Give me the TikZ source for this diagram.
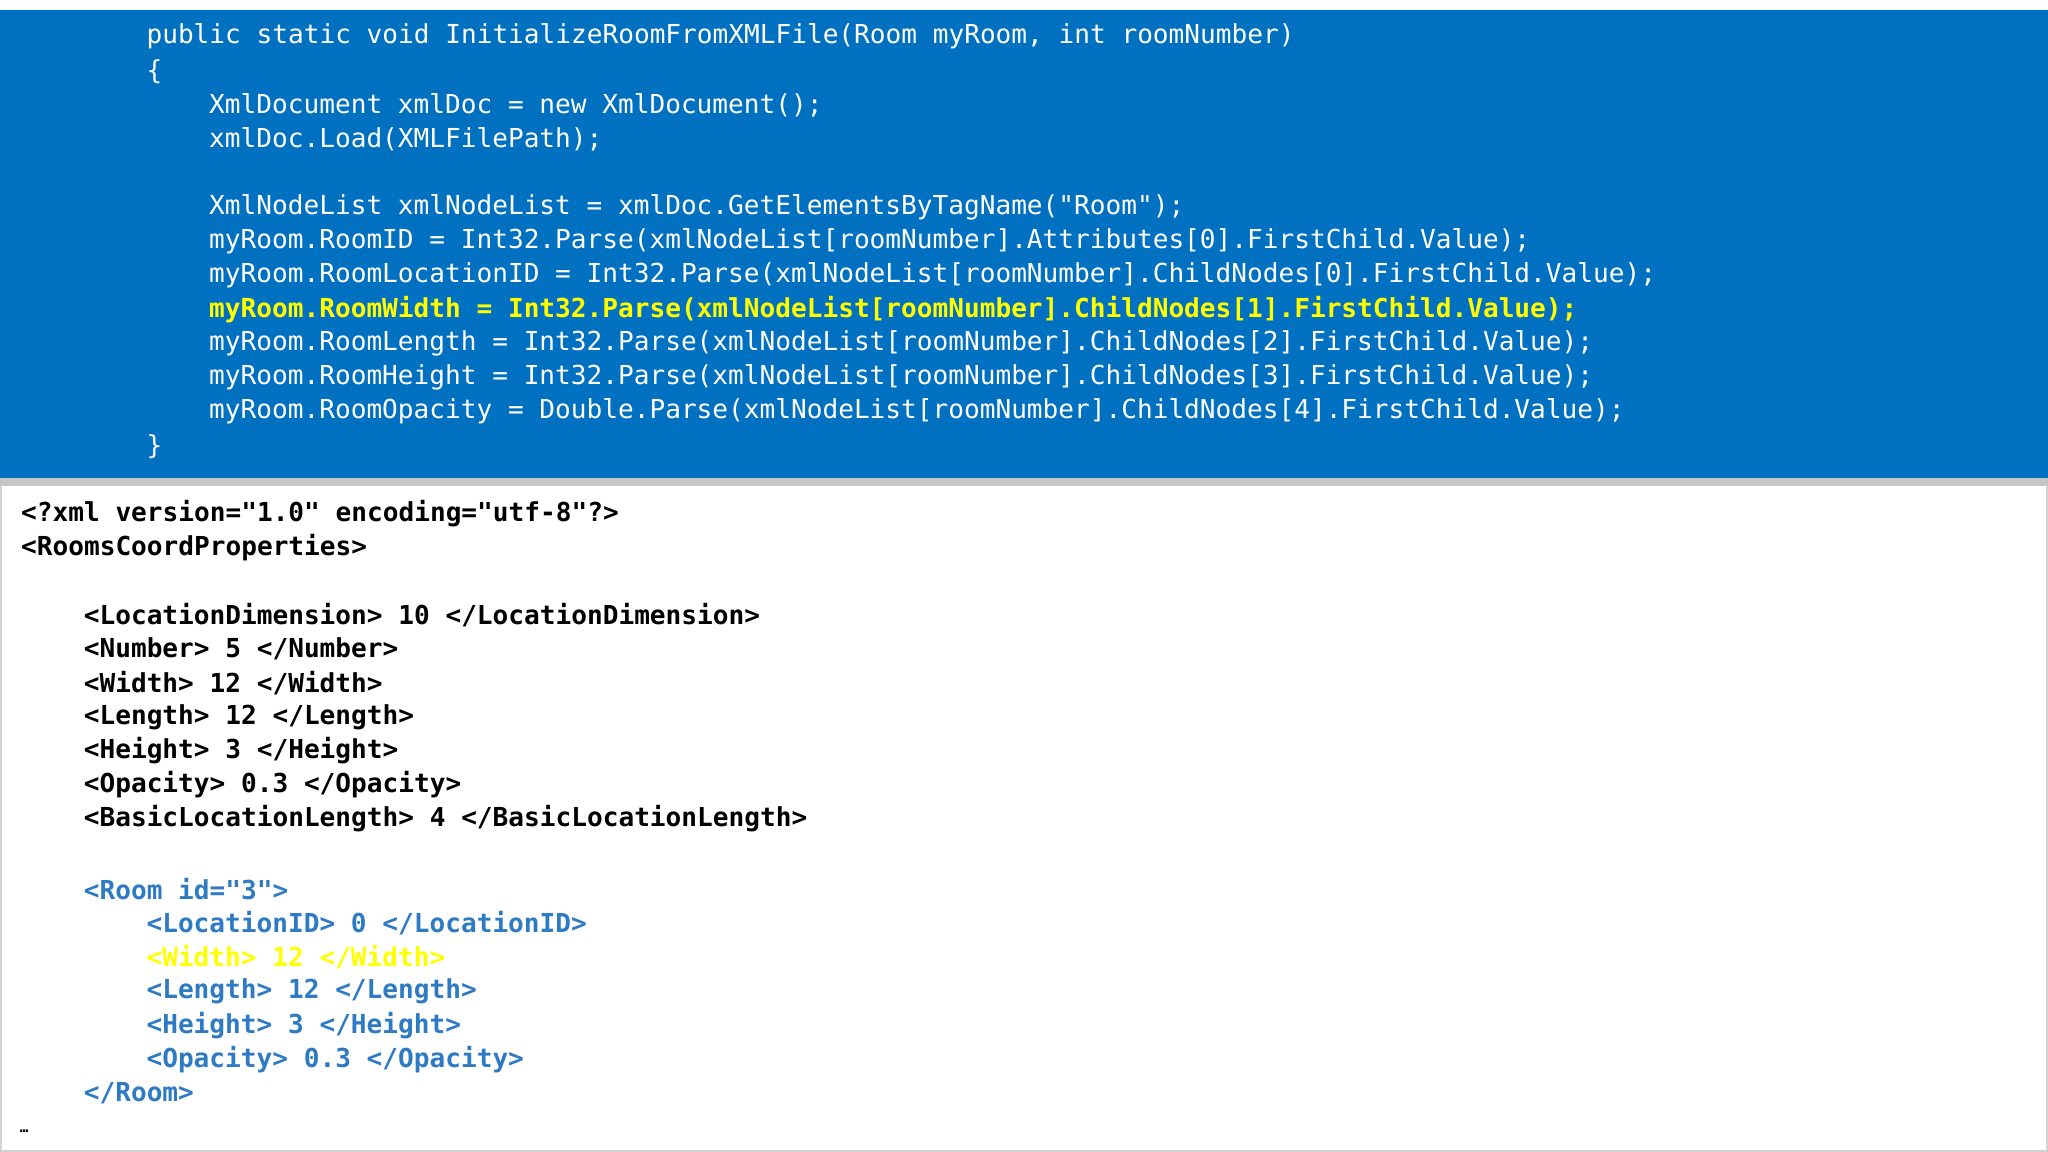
\documentclass[tikz,border=0pt]{standalone}
\usepackage{fontspec}
\setmonofont{DejaVu Sans Mono}
\definecolor{barblue}{HTML}{0070C0}
\definecolor{xmlblue}{HTML}{2E7BC4}
\definecolor{hl}{HTML}{FFFF00}
\begin{document}
\begin{tikzpicture}[x=1pt,y=-1pt,
  code/.style={anchor=west,inner sep=0pt,text=white,font=\ttfamily\fontsize{20}{24}\selectfont},
  xml/.style={anchor=west,inner sep=0pt,text=black,font=\ttfamily\bfseries\fontsize{20}{24}\selectfont},
  xb/.style={xml,text=xmlblue}]
\useasboundingbox (0,0) rectangle (1568,882);
\fill[white] (0,0) rectangle (1568,882);
\draw[gray!35,line width=1.2pt] (0.6,370) rectangle (1567.4,881.4);
\fill[gray!45] (0,366) rectangle (1568,372);
\fill[barblue] (0,7.7) rectangle (1568,366);
\node[code] (c1) at (112,28) {public static void InitializeRoomFromXMLFile(Room myRoom, int roomNumber)};
\node[code] (c2) at (112,55) {\{};
\node[code] (c3) at (160,81) {XmlDocument xmlDoc = new XmlDocument();};
\node[code] (c4) at (160,107) {xmlDoc.Load(XMLFilePath);};
\node[code] (c5) at (160,159) {XmlNodeList xmlNodeList = xmlDoc.GetElementsByTagName("Room");};
\node[code] (c6) at (160,185) {myRoom.RoomID = Int32.Parse(xmlNodeList[roomNumber].Attributes[0].FirstChild.Value);};
\node[code] (c7) at (160,211) {myRoom.RoomLocationID = Int32.Parse(xmlNodeList[roomNumber].ChildNodes[0].FirstChild.Value);};
\node[code,text=hl,font=\ttfamily\bfseries\fontsize{20}{24}\selectfont] (c8) at (160,237) {myRoom.RoomWidth = Int32.Parse(xmlNodeList[roomNumber].ChildNodes[1].FirstChild.Value);};
\node[code] (c9) at (160,263) {myRoom.RoomLength = Int32.Parse(xmlNodeList[roomNumber].ChildNodes[2].FirstChild.Value);};
\node[code] (c10) at (160,289) {myRoom.RoomHeight = Int32.Parse(xmlNodeList[roomNumber].ChildNodes[3].FirstChild.Value);};
\node[code] (c11) at (160,315) {myRoom.RoomOpacity = Double.Parse(xmlNodeList[roomNumber].ChildNodes[4].FirstChild.Value);};
\node[code] (c12) at (112,342) {\}};
\node[xml] (x1) at (16,393) {<?xml version="1.0" encoding="utf-8"?>};
\node[xml] (x2) at (16,419) {<RoomsCoordProperties>};
\node[xml] (x3) at (64,471) {<LocationDimension> 10 </LocationDimension>};
\node[xml] (x4) at (64,497) {<Number> 5 </Number>};
\node[xml] (x5) at (64,523) {<Width> 12 </Width>};
\node[xml] (x6) at (64,549) {<Length> 12 </Length>};
\node[xml] (x7) at (64,575) {<Height> 3 </Height>};
\node[xml] (x8) at (64,601) {<Opacity> 0.3 </Opacity>};
\node[xml] (x9) at (64,627) {<BasicLocationLength> 4 </BasicLocationLength>};
\node[xb] (r1) at (64,681) {<Room id="3">};
\node[xb] (r2) at (112,707) {<LocationID> 0 </LocationID>};
\node[xb,text=hl] (r3) at (112,733) {<Width> 12 </Width>};
\node[xb] (r4) at (112,759) {<Length> 12 </Length>};
\node[xb] (r5) at (112,785) {<Height> 3 </Height>};
\node[xb] (r6) at (112,811) {<Opacity> 0.3 </Opacity>};
\node[xb] (r7) at (64,837) {</Room>};
\node[xml,font=\ttfamily\bfseries\fontsize{11}{12}\selectfont] (el) at (15,866) {…};
\end{tikzpicture}
\end{document}
